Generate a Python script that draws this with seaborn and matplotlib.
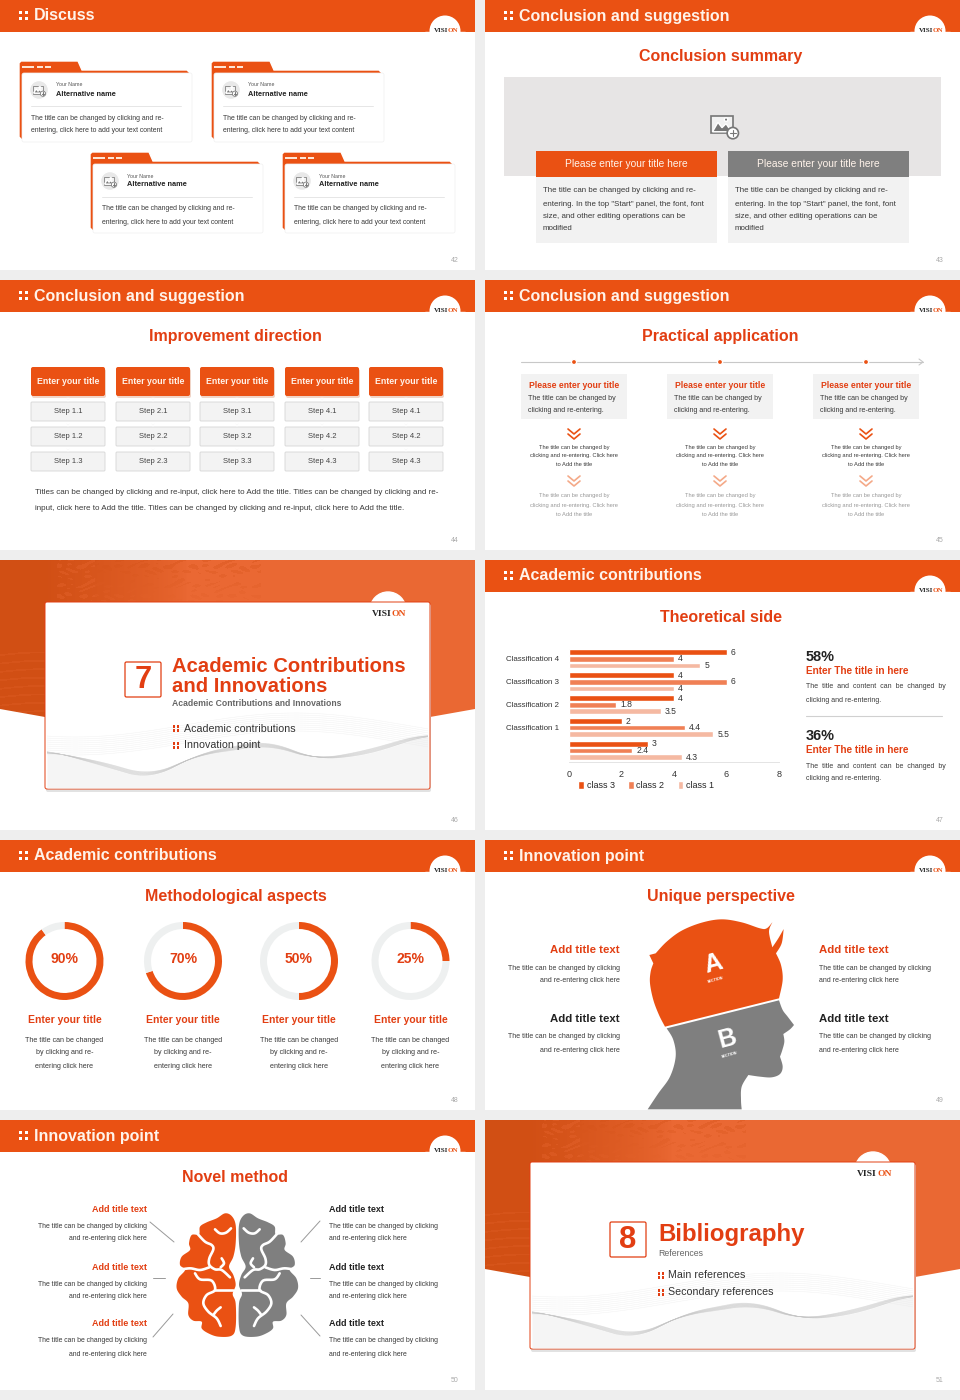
import numpy as np
import pandas as pd
import seaborn as sns
import matplotlib
matplotlib.use("Agg")
import matplotlib.pyplot as plt
from matplotlib.patches import Rectangle, FancyBboxPatch, Polygon, Circle

# bar chart on page 47
categories = ["Classification 4", "Classification 3", "Classification 2", "Classification 1", ""]
class_3 = [6, 4, 4, 2, 3]
class_2 = [4, 6, 1.8, 4.4, 2.4]
class_1 = [5, 4, 3.5, 5.5, 4.3]
x_ticks = [0, 2, 4, 6, 8]

# rings on page 48
ring_values = [90, 70, 50, 25]
ring_labels = ["90%", "70%", "50%", "25%"]

steps = [["1.1", "1.2", "1.3"], ["2.1", "2.2", "2.3"], ["3.1", "3.2", "3.3"],
         ["4.1", "4.2", "4.3"], ["4.1", "4.2", "4.3"]]

ORANGE = "#EA5113"
RED = "#E23E12"
GREY = "#7F7F7F"
TXT = "#3A3A3A"

sns.set_theme(style="white")
plt.rcParams["font.family"] = ["Liberation Sans", "DejaVu Sans"]

W, H = 960, 1400
fig = plt.figure(figsize=(9.6, 14), dpi=100, facecolor="#EEEEEE")
ax = fig.add_axes([0, 0, 1, 1])
ax.set_xlim(0, W)
ax.set_ylim(H, 0)
ax.axis("off")
ax.set_autoscale_on(False)


def T(x, y, s, px, color=TXT, weight="normal", ha="left", rot=0, family=None, z=10):
    return ax.text(x, y, s, fontsize=px * 0.72, color=color, fontweight=weight, ha=ha, va="center",
                   rotation=rot, family=family, zorder=z)


def R(x0, y0, x1, y1, color, z=2, ec="none", lw=0):
    ax.add_patch(Rectangle((x0, y0), x1 - x0, y1 - y0, fc=color, ec=ec, lw=lw, zorder=z))


def RR(x0, y0, x1, y1, color, ec="none", lw=0, r=2, z=3):
    p = FancyBboxPatch((x0, y0), x1 - x0, y1 - y0, boxstyle=f"round,pad=0,rounding_size={r}",
                       fc=color, ec=ec, lw=lw, zorder=z)
    ax.add_patch(p)
    return p


def dots(x, y, color="white", s=3, gap=6):
    for dx in (0, gap):
        for dy in (0, gap):
            R(x + dx, y + dy, x + dx + s, y + dy + s, color, z=9)


def vision(jx, cy, px=7):
    T(jx, cy, "VISI", px, "#222222", "bold", ha="right", family="Liberation Serif")
    T(jx, cy, "ON", px, ORANGE, "bold", ha="left", family="Liberation Serif")


def slide(x, y, header=None, num=""):
    R(x, y, x + 475, y + 270, "white", z=1)
    if header:
        R(x, y, x + 475, y + 31.5, ORANGE, z=2)
        dots(x + 19, y + 11)
        T(x + 34, y + 16, header, 16, "#FFF3EA", "bold")
        ax.add_patch(Circle((x + 445, y + 31), 15.5, fc="white", ec="none", zorder=3))
        ax.add_patch(Rectangle((x + 425, y + 31.5), 40, 18, fc="white", zorder=3))
        vision(x + 448, y + 31, 7)
    T(x + 455, y + 261, num, 7, "#AAAAAA", ha="center")


def picture_icon(cx, cy, k=1.0, plus=True):
    ax.add_patch(Rectangle((cx - 8 * k, cy - 7 * k), 16 * k, 13 * k, fc="#F2F2F2", ec="#777777", lw=0.9 * k, zorder=6))
    ax.add_patch(Polygon([(cx - 7 * k, cy + 5 * k), (cx - 3 * k, cy - 2 * k), (cx, cy + 2 * k), (cx + 3 * k, cy - 1 * k),
                          (cx + 7 * k, cy + 5 * k)], fc="#777777", zorder=7))
    ax.add_patch(Circle((cx + 3 * k, cy - 4 * k), 1.3 * k, fc="#777777", zorder=7))
    if plus:
        ax.add_patch(Circle((cx + 8 * k, cy + 6 * k), 4.2 * k, fc="white", ec="#777777", lw=0.9 * k, zorder=8))
        ax.plot([cx + 6 * k, cx + 10 * k], [cy + 6 * k] * 2, color="#777777", lw=0.8, zorder=9)
        ax.plot([cx + 8 * k] * 2, [cy + 4 * k, cy + 8 * k], color="#777777", lw=0.8, zorder=9)


def spline(points, n=10, closed=False):
    # Catmull-Rom through traced outline points
    p = np.array(points, dtype=float)
    m = len(p)
    out = []
    for i in range(m if closed else m - 1):
        if closed:
            p0, p1, p2, p3 = p[(i - 1) % m], p[i], p[(i + 1) % m], p[(i + 2) % m]
        else:
            p0, p1, p2, p3 = p[max(i - 1, 0)], p[i], p[i + 1], p[min(i + 2, m - 1)]
        for t in np.linspace(0, 1, n, endpoint=False):
            out.append(0.5 * (2 * p1 + (p2 - p0) * t + (2 * p0 - 5 * p1 + 4 * p2 - p3) * t ** 2
                              + (3 * p1 - p0 - 3 * p2 + p3) * t ** 3))
    if not closed:
        out.append(p[-1])
    return np.array(out)


def section(x, y, num, page):
    slide(x, y, None, page)
    # photo band behind the card
    nx, ny = 475, 175
    xx, yy = np.meshgrid(np.linspace(0, 1, nx), np.linspace(0, 1, ny))
    dark = np.clip(1.3 - xx * 3.3, 0, 1) ** 0.7
    speck = np.sin(xx * 120 + 3 * np.sin(yy * 41)) * np.sin(yy * 90 + 2 * np.sin(xx * 67)) * np.sin((xx + yy) * 53) > 0.2
    top_mask = np.clip(1 - yy * 3.4, 0, 1) * ((xx > 0.2) & (xx < 0.55))
    streak = np.sin(yy * 130 + 2 * np.sin(xx * 19)) > 0.8
    shade = dark * (1 - 0.3 * speck * (xx > 0.12)) * (1 - 0.2 * streak * (yy > 0.5))
    shade = np.clip(shade + 0.3 * speck * top_mask, 0, 1)[..., None]
    light = np.array([0.918, 0.408, 0.20])
    deep = np.array([0.82, 0.31, 0.08])
    im = ax.imshow(light * (1 - shade) + deep * shade, extent=(x, x + 475, y + 175, y), aspect="auto", zorder=2,
                   interpolation="bilinear")
    clip = Polygon([(x, y), (x + 475, y), (x + 475, y + 149), (x + 430, y + 157), (x + 237, y + 172), (x + 45, y + 157), (x, y + 149)],
                   transform=ax.transData, fc="none", ec="none")
    ax.add_patch(clip)
    im.set_clip_path(clip)
    # card
    ax.add_patch(Circle((x + 388, y + 50), 18, fc="white", zorder=3))
    RR(x + 46, y + 44, x + 431, y + 232, "#E2E2E2", r=2, z=3)
    RR(x + 45, y + 42, x + 430, y + 229, "white", ec=RED, lw=0.7, r=2, z=4)
    card = Rectangle((x + 47, y + 135), 381, 93, transform=ax.transData, fc="none", ec="none")
    ax.add_patch(card)
    # grey mesh along the bottom of the card
    xs = np.linspace(x + 47, x + 428, 200)
    wave = np.interp(xs - x, [47, 100, 150, 200, 267, 317, 367, 427], [190, 205, 220, 193, 180, 200, 195, 175])
    wave = np.convolve(np.pad(wave, 12, mode="edge"), np.ones(25) / 25, mode="valid")
    fill = ax.fill_between(xs, y + wave, y + 228, color="#F5F5F5", lw=0, zorder=5)
    fill.set_clip_path(card)
    for k in range(10):
        line, = ax.plot(xs, y + wave + k * 0.45 * np.cos((xs - x) / 40), color="#C4C4C4", lw=0.35, alpha=0.55, zorder=5)
        line.set_clip_path(card)
        upper, = ax.plot(xs, y + 165 + k * 2 + 12 * np.sin((xs - x) / 70 + 0.5), color="#E8E8E8", lw=0.35, alpha=0.6, zorder=5)
        upper.set_clip_path(card)
    vision(x + 392, y + 54, 9.5)
    RR(x + 125, y + 102, x + 161, y + 137, "white", ec=RED, lw=0.9, r=1.5, z=6)
    T(x + 143, y + 120, num, 31, RED, "bold", ha="center")


def desc(x, ys, lines, px=7.6, ha="left", color=TXT):
    for yy, ln in zip(ys, lines):
        T(x, yy, ln, px, color, ha=ha)


# ------ page 42
slide(0, 0, "Discuss", "42")
for x0, y0 in [(19, 61), (211, 61), (90, 152), (282, 152)]:
    ax.add_patch(Polygon([(x0, y0 + 2), (x0 + 2, y0), (x0 + 59, y0), (x0 + 63, y0 + 9), (x0 + 168, y0 + 9), (x0 + 172, y0 + 13),
                          (x0 + 3, y0 + 79), (x0, y0 + 76)], fc=ORANGE, zorder=3))
    RR(x0 + 3, y0 + 12, x0 + 173, y0 + 81, "white", ec="#F0F0F0", lw=0.5, r=2, z=4)
    R(x0 + 3, y0 + 5, x0 + 15, y0 + 7, "#FDE5D5", z=5)
    R(x0 + 18, y0 + 5, x0 + 24, y0 + 7, "#FDE5D5", z=5)
    R(x0 + 26, y0 + 5, x0 + 32, y0 + 7, "#FDE5D5", z=5)
    ax.add_patch(Circle((x0 + 20, y0 + 29), 9.5, fc="#E8E8E8", zorder=5))
    picture_icon(x0 + 19, y0 + 29, 0.62)
    T(x0 + 37, y0 + 24, "Your Name", 5.2, "#555555")
    T(x0 + 37, y0 + 33, "Alternative name", 7.4, "#222222", "bold")
    ax.plot([x0 + 12, x0 + 162], [y0 + 44.5] * 2, color="#E6E6E6", lw=0.7, zorder=5)
    desc(x0 + 12, [y0 + 57, y0 + 70], ["The title can be changed by clicking and re-",
                                       "entering, click here to add your text content"], 6.85)

# ------ page 43
slide(485, 0, "Conclusion and suggestion", "43")
T(720.5, 57, "Conclusion summary", 16, RED, "bold", ha="center")
R(504, 77, 941, 176, "#E7E5E5")
picture_icon(722, 125, 1.35)
for x0, col in [(536, ORANGE), (728, GREY)]:
    R(x0, 177, x0 + 181, 243, "#F2F2F2", z=3)
    R(x0, 151, x0 + 181, 177, col, z=4)
    T(x0 + 90.5, 164, "Please enter your title here", 10.2, "#FFF3EA", ha="center")
    desc(x0 + 7, [191, 204, 217, 229], ["The title can be changed by clicking and re-", "entering. In the top \"Start\" panel, the font, font",
                                        "size, and other editing operations can be", "modified"], 7.85)

# ------ page 44
slide(0, 280, "Conclusion and suggestion", "44")
T(235.5, 337, "Improvement direction", 16, RED, "bold", ha="center")
for x0, col in zip([31, 116, 200, 285, 369], steps):
    RR(x0 + 1, 369, x0 + 75, 398, "#F0D5C8", r=2, z=3)
    RR(x0, 367, x0 + 74, 396, ORANGE, r=2, z=4)
    T(x0 + 37, 381, "Enter your title", 8.8, "#FFF3EA", "bold", ha="center")
    for j, s in enumerate(col):
        RR(x0, 402 + 25 * j, x0 + 74, 421 + 25 * j, "#F3F3F3", ec="#D5D5D5", lw=0.6, r=1, z=4)
        T(x0 + 37, 411.5 + 25 * j, "Step " + s, 7.6, "#444444", ha="center")
        ax.add_patch(Polygon([(x0 + 35.5, 398.5 + 25 * j), (x0 + 38.5, 398.5 + 25 * j), (x0 + 37, 401 + 25 * j)], fc="#AAAAAA", zorder=4))
desc(35, [493, 508], ["Titles can be changed by clicking and re-input, click here to Add the title. Titles can be changed by clicking and re-",
                      "input, click here to Add the title. Titles can be changed by clicking and re-input, click here to Add the title."], 8.0)

# ------ page 45
slide(485, 280, "Conclusion and suggestion", "45")
T(720.5, 337, "Practical application", 16, RED, "bold", ha="center")
ax.plot([521, 923], [362, 362], color="#C8C8C8", lw=0.8, zorder=3)
ax.plot([919, 923, 919], [359, 362, 365], color="#C8C8C8", lw=0.8, zorder=3)
for x0 in [521, 667, 813]:
    cx = x0 + 53
    ax.add_patch(Circle((cx, 362), 2.6, fc=ORANGE, zorder=4))
    R(x0, 374, x0 + 106, 419, "#F2F2F2", z=3)
    T(cx, 385, "Please enter your title", 8.6, RED, "bold", ha="center")
    desc(x0 + 7, [399, 410], ["The title can be changed by", "clicking and re-entering."], 7.2)
    for yc, c in [(433, ORANGE), (480, "#F4A988")]:
        for dy in (-4, 1):
            ax.plot([cx - 6, cx, cx + 6], [yc + dy, yc + dy + 5, yc + dy], color=c, lw=1.2, zorder=4)
    lines = ["The title can be changed by", "clicking and re-entering. Click here", "to Add the title"]
    desc(cx, [447, 456, 465], lines, 5.8, ha="center")
    desc(cx, [496, 505, 514], lines, 5.8, ha="center", color="#999999")

# ------ page 46
section(0, 560, "7", "46")
T(172, 666, "Academic Contributions", 20.3, RED, "bold")
T(172, 686, "and Innovations", 20.3, RED, "bold")
T(172, 704, "Academic Contributions and Innovations", 8.7, "#666666", "bold")
dots(172.5, 725, RED, 2.6, 4)
T(184, 728.5, "Academic contributions", 10.6, "#333333")
dots(172.5, 742, RED, 2.6, 4)
T(184, 745.5, "Innovation point", 10.6, "#333333")

# ------ page 47
slide(485, 560, "Academic contributions", "47")
T(720.5, 617, "Theoretical side", 16, RED, "bold", ha="center")
for y0, pct in [(657, "58%"), (736, "36%")]:
    T(806, y0, pct, 14.5, "#222222", "bold")
    T(806, y0 + 14, "Enter The title in here", 10, RED, "bold")
    desc(806, [y0 + 30, y0 + 43], ["The  title  and  content  can  be  changed  by", "clicking and re-entering."], 7.0)
ax.plot([806, 942], [716, 716], color="#D0D0D0", lw=0.8, zorder=4)

bars = pd.DataFrame({
    "category": categories * 3,
    "value": class_3 + class_2 + class_1,
    "series": ["class 3"] * 5 + ["class 2"] * 5 + ["class 1"] * 5,
})
bar_ax = fig.add_axes([569 / W, 1 - 762 / H, 210 / W, 114.6 / H], facecolor="none")
sns.barplot(data=bars, y="category", x="value", hue="series", hue_order=["class 3", "class 2", "class 1"],
            palette=[ORANGE, "#F08055", "#F5B9A2"], orient="h", width=0.857, gap=0.14, saturation=1,
            ax=bar_ax)
bar_ax.set_xlim(0, 8)
bar_ax.set_ylim(4.5, -0.5)
bar_ax.set_xticks(x_ticks)
bar_ax.set_xlabel("")
bar_ax.set_ylabel("")
bar_ax.tick_params(axis="x", labelsize=6.5, length=0, pad=6, colors="#333333")
bar_ax.tick_params(axis="y", labelsize=5.7, length=0, pad=7, colors="#333333")
sns.despine(ax=bar_ax, left=True)
bar_ax.spines["bottom"].set_color("#E4E4E4")
bar_ax.spines["bottom"].set_linewidth(0.7)
for cont in bar_ax.containers:
    bar_ax.bar_label(cont, fontsize=6.2, color="#333333", padding=3)
sns.move_legend(bar_ax, "upper left", bbox_to_anchor=(0.045, -0.165), ncol=3, frameon=False, title=None, fontsize=6.5,
                handlelength=0.6, handleheight=0.95, columnspacing=1.5, handletextpad=0.3, borderpad=0, borderaxespad=0)

# ------ page 48
slide(0, 840, "Academic contributions", "48")
T(235.5, 897, "Methodological aspects", 16, RED, "bold", ha="center")
for cx, v, lab in zip([64.5, 183, 299, 410.5], ring_values, ring_labels):
    r = 39
    ring_ax = fig.add_axes([(cx - r) / W, 1 - (961 + r) / H, 2 * r / W, 2 * r / H])
    ring_ax.pie([v, 100 - v], startangle=90, counterclock=False, colors=[ORANGE, "#EEF0F0"], radius=1,
                wedgeprops={"width": 0.18, "linewidth": 0})
    ring_ax.set_xlim(-1, 1)
    ring_ax.set_ylim(-1, 1)
    T(cx, 959, lab, 14, RED, "bold", ha="center")
    T(cx, 1020, "Enter your title", 10.4, RED, "bold", ha="center")
    desc(cx, [1040, 1053, 1066], ["The title can be changed", "by clicking and re-", "entering click here"], 7.2, ha="center")

# ------ page 49
slide(485, 840, "Innovation point", "49")
T(720.5, 897, "Unique perspective", 16, RED, "bold", ha="center")
for y0, c in [(950, RED), (1019, "#222222")]:
    T(620, y0, "Add title text", 11.4, c, "bold", ha="right")
    desc(620, [y0 + 18, y0 + 31], ["The title can be changed by clicking", "and re-entering click here"], 7.0, ha="right")
    T(819, y0, "Add title text", 11.4, c, "bold")
    desc(819, [y0 + 18, y0 + 31], ["The title can be changed by clicking", "and re-entering click here"], 7.0)


def head_outline(segments):
    pts = np.vstack([spline(s) for s in segments])
    return np.column_stack([485 + pts[:, 0] / 3, 900 + pts[:, 1] / 3])


head_top = [[(540, 380), (522, 345), (505, 300), (495, 250), (497, 215), (505, 190)],
            [(505, 190), (493, 165)], [(493, 165), (512, 160)],
            [(512, 160), (545, 125), (590, 92), (650, 68), (710, 58), (770, 67), (825, 85), (845, 85), (862, 67)],
            [(862, 67), (852, 95), (862, 142)], [(862, 142), (880, 115), (896, 87)],
            [(896, 87), (890, 130), (873, 160)], [(873, 160), (888, 195), (893, 240), (882, 295)]]
head_low = [[(545, 385), (882, 301)], [(882, 301), (893, 330), (908, 350), (927, 375)],
            [(927, 375), (915, 388), (895, 402)], [(895, 402), (898, 425), (892, 450), (885, 470)],
            [(885, 470), (893, 500), (885, 522), (860, 532), (825, 530), (790, 525)],
            [(790, 525), (770, 560), (768, 600), (770, 628)], [(770, 628), (488, 628)],
            [(488, 628), (520, 580), (555, 530), (572, 470), (565, 420), (545, 385)]]
ax.add_patch(Polygon(head_outline(head_top), fc=ORANGE, ec="none", zorder=4))
ax.add_patch(Polygon(head_outline(head_low), fc=GREY, ec="none", zorder=4))
T(713.5, 964, "A", 25, "white", "bold", ha="center", rot=15, z=6)
T(716, 980, "SECTION", 3.8, "white", "bold", ha="center", rot=15, z=6)
T(727, 1039, "B", 25, "white", "bold", ha="center", rot=15, z=6)
T(730, 1055, "SECTION", 3.8, "white", "bold", ha="center", rot=15, z=6)

# ------ page 50
slide(0, 1120, "Innovation point", "50")
T(235.5, 1177, "Novel method", 16, RED, "bold", ha="center")
for y0 in [1210, 1267, 1324]:
    dy = 0 if y0 == 1210 else 1
    T(146.5, y0, "Add title text", 9, RED, "bold", ha="right")
    desc(146.5, [y0 + 16 + dy, y0 + 29 + dy], ["The title can be changed by clicking", "and re-entering click here"], 6.9, ha="right")
    T(329, y0, "Add title text", 9, "#222222", "bold")
    desc(329, [y0 + 16 + dy, y0 + 29 + dy], ["The title can be changed by clicking", "and re-entering click here"], 6.9)
for a, b, c, d in [(150, 1222, 174, 1242), (153, 1278, 165, 1278), (153, 1337, 173, 1314),
                   (301, 1242, 320, 1221), (310, 1278, 320, 1278), (301, 1315, 320, 1336)]:
    ax.plot([a, c], [b, d], color="#999999", lw=0.7, zorder=3)

brain = [(257, 105), (245, 78), (225, 70), (200, 85), (170, 97), (150, 110), (147, 133), (125, 135), (117, 160), (120, 180), (95, 200),
         (90, 225), (105, 240), (85, 265), (80, 295), (95, 320), (115, 340), (115, 375), (130, 392), (155, 395), (155, 415), (175, 430),
         (205, 440), (245, 437), (257, 410), (257, 340), (248, 312), (257, 285), (250, 255), (237, 230), (250, 200), (257, 160)]
sulci = [[(195, 118), (210, 130), (228, 128), (243, 115)],
         [(143, 132), (165, 155), (185, 165), (190, 178), (178, 205), (178, 225), (195, 238), (215, 240), (240, 262)],
         [(215, 205), (222, 220), (212, 232)],
         [(85, 240), (120, 235), (150, 240), (178, 232)],
         [(135, 250), (150, 268), (185, 272), (195, 300), (170, 315), (160, 340), (175, 365), (200, 385), (212, 408)],
         [(212, 352), (200, 362), (190, 375)],
         [(195, 300), (250, 300)]]
for mirror, col in [(False, ORANGE), (True, GREY)]:
    pts = spline(brain, 8, closed=True)
    if mirror:
        pts[:, 0] = 524 - pts[:, 0]
    ax.add_patch(Polygon(np.column_stack([150 + pts[:, 0] / 3, 1190 + pts[:, 1] / 3]), fc=col, ec="none", zorder=4))
    for s in sulci:
        pts = spline(s, 6)
        if mirror:
            pts[:, 0] = 524 - pts[:, 0]
        ax.plot(150 + pts[:, 0] / 3, 1190 + pts[:, 1] / 3, color="white", lw=1.9, zorder=5, solid_capstyle="round")

# ------ page 51
section(485, 1120, "8", "51")
T(658, 1234, "Bibliography", 24, RED, "bold")
T(658, 1253, "References", 8.8, "#666666")
dots(657.5, 1272, RED, 2.6, 4)
T(668.5, 1275, "Main references", 10.6, "#333333")
dots(657.5, 1289, RED, 2.6, 4)
T(668.5, 1292, "Secondary references", 10.6, "#333333")

fig.savefig("out.png", dpi=100, facecolor=fig.get_facecolor())
